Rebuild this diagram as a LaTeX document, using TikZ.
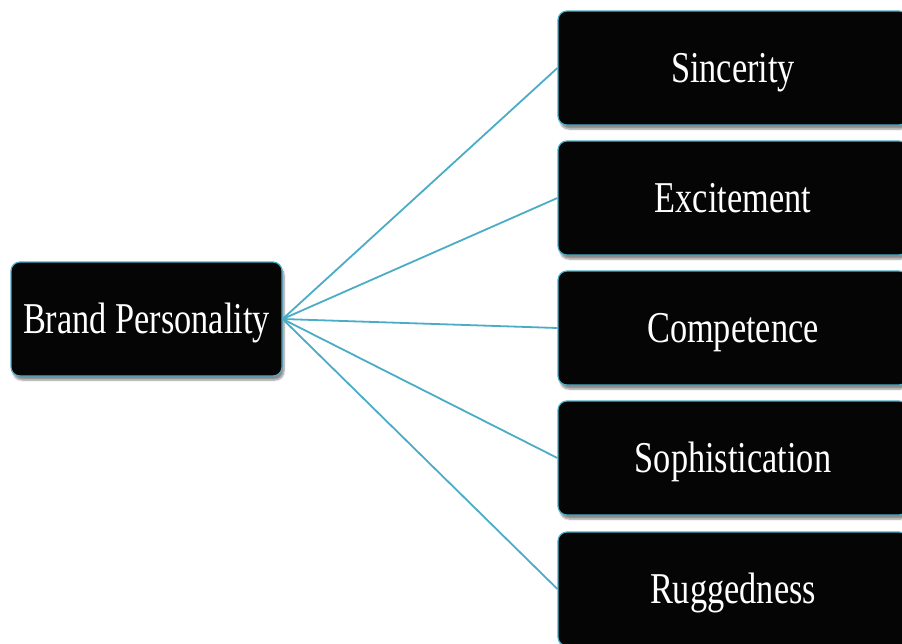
\documentclass[tikz,border=0pt]{standalone}
\usepackage{fontspec}
\setmainfont{Liberation Serif}
\newfontfamily\boxfont[FakeStretch=0.78]{Liberation Serif}
\usetikzlibrary{shadows.blur}
\definecolor{accent}{HTML}{4BACC6}
\definecolor{boxfill}{HTML}{050505}
\tikzset{
  x=1pt, y=-1pt,
  pbox/.style={draw=accent, line width=1.2pt, fill=boxfill, rounded corners=9pt,
    text=white, font=\boxfont\fontsize{44}{48}\selectfont,
    minimum height=114pt, inner sep=0pt, text height=30pt, text depth=2pt,
    blur shadow={shadow xshift=2pt, shadow yshift=-4pt, shadow blur steps=6, shadow opacity=45}},
  link/.style={draw=accent, line width=1.8pt}
}
\begin{document}
\begin{tikzpicture}
\useasboundingbox (0,0) rectangle (902,643);
\node[pbox, minimum width=271pt] (bp) at (146.5,319) {Brand Personality};
\node[pbox, minimum width=350pt] (s1) at (733,68) {Sincerity};
\node[pbox, minimum width=350pt] (s2) at (733,198) {Excitement};
\node[pbox, minimum width=350pt] (s3) at (733,328) {Competence};
\node[pbox, minimum width=350pt] (s4) at (733,458) {Sophistication};
\node[pbox, minimum width=350pt] (s5) at (733,589) {Ruggedness};
\foreach \t in {s1,s2,s3,s4,s5} \draw[link] (bp.east) -- (\t.west);
\end{tikzpicture}
\end{document}
